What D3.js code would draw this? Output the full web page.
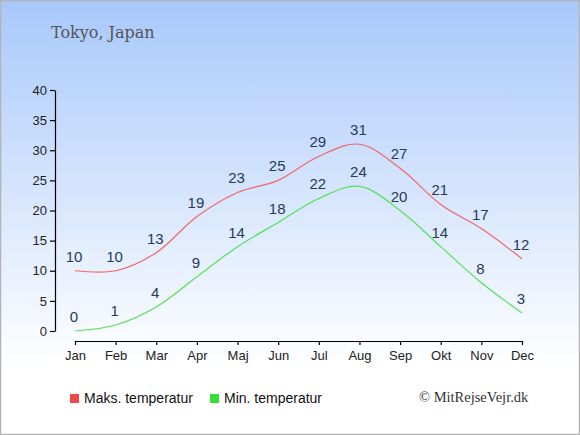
<!DOCTYPE html>
<html>
<head>
<meta charset="utf-8">
<script src="https://cdn.jsdelivr.net/npm/d3@7"></script>
<style>
  body { margin: 0; padding: 0; background: #fff; }
  svg { display: block; }
</style>
</head>
<body>
<svg id="chart" width="580" height="435"></svg>
<script>
const months = ["Jan", "Feb", "Mar", "Apr", "Maj", "Jun", "Jul", "Aug", "Sep", "Okt", "Nov", "Dec"];
const maxTemp = [10, 10, 13, 19, 23, 25, 29, 31, 27, 21, 17, 12];
const minTemp = [0, 1, 4, 9, 14, 18, 22, 24, 20, 14, 8, 3];
const yTicks = [0, 5, 10, 15, 20, 25, 30, 35, 40];
const seriesNames = ["Maks. temperatur", "Min. temperatur"];
const seriesColors = ["#f04848", "#33e033"];
const lineColors = ["#f06666", "#55e055"];

const width = 580, height = 435;
const svg = d3.select("#chart");

// background gradient
const defs = svg.append("defs");
const grad = defs.append("linearGradient")
    .attr("id", "bg")
    .attr("x1", 0).attr("y1", 0).attr("x2", 0).attr("y2", 1);
grad.append("stop").attr("offset", "0%").attr("stop-color", "#a8c8fb");
grad.append("stop").attr("offset", "100%").attr("stop-color", "#ffffff");

svg.append("rect")
    .attr("x", 0).attr("y", 0)
    .attr("width", width).attr("height", 365)
    .attr("fill", "url(#bg)");

svg.append("rect")
    .attr("x", 0.5).attr("y", 0.5)
    .attr("width", width - 1).attr("height", height - 1)
    .attr("fill", "none")
    .attr("stroke", "#b4b4b4")
    .attr("stroke-width", 1.5);

// title
svg.append("text")
    .attr("x", 51).attr("y", 38)
    .attr("font-family", "'DejaVu Serif', serif")
    .attr("font-size", 16)
    .attr("fill", "#555")
    .text("Tokyo, Japan");

const x = d3.scalePoint()
    .domain(months)
    .range([75, 522]);

const y = d3.scaleLinear()
    .domain([0, 40])
    .range([331, 90]);

// axes
const yAxis = svg.append("g")
    .attr("transform", "translate(55,0)")
    .call(d3.axisLeft(y).tickValues(yTicks).tickSize(5).tickSizeOuter(0));

const xAxis = svg.append("g")
    .attr("transform", "translate(0,341)")
    .call(d3.axisBottom(x).tickSize(4).tickSizeOuter(0));

[yAxis, xAxis].forEach(g => {
    g.select(".domain").attr("stroke", "#000").attr("stroke-width", 1.2);
    g.selectAll(".tick line").attr("stroke", "#000").attr("stroke-width", 1.2);
    g.selectAll("text")
        .attr("font-family", "'Liberation Sans', Arial, sans-serif")
        .attr("font-size", 13)
        .attr("fill", "#222");
});
xAxis.selectAll("text").attr("dy", "0.95em");
yAxis.selectAll("text").attr("x", -8);

// lines
const line = d3.line()
    .x((d, i) => x(months[i]))
    .y(d => y(d))
    .curve(d3.curveCatmullRom.alpha(0.5));

[maxTemp, minTemp].forEach((series, s) => {
    svg.append("path")
        .datum(series)
        .attr("d", line)
        .attr("fill", "none")
        .attr("stroke", lineColors[s])
        .attr("stroke-width", 1.2);

    svg.selectAll(".lbl" + s)
        .data(series)
        .join("text")
        .attr("class", "lbl" + s)
        .attr("x", (d, i) => x(months[i]) - 1)
        .attr("y", d => y(d) - 9)
        .attr("text-anchor", "middle")
        .attr("font-family", "'Liberation Sans', Arial, sans-serif")
        .attr("font-size", 15)
        .attr("fill", "#263a5c")
        .text(d => d);
});

// legend
const legend = svg.append("g");
seriesNames.forEach((name, i) => {
    const lx = 70 + i * 140;
    legend.append("rect")
        .attr("x", lx).attr("y", 394)
        .attr("width", 9).attr("height", 9)
        .attr("fill", seriesColors[i]);
    legend.append("text")
        .attr("x", lx + 14).attr("y", 403)
        .attr("font-family", "'Liberation Sans', Arial, sans-serif")
        .attr("font-size", 14)
        .attr("fill", "#111")
        .text(name);
});

svg.append("text")
    .attr("x", 419).attr("y", 402)
    .attr("font-family", "'Liberation Serif', 'DejaVu Serif', serif")
    .attr("font-size", 14.5)
    .attr("fill", "#333")
    .text("© MitRejseVejr.dk");
</script>
</body>
</html>
